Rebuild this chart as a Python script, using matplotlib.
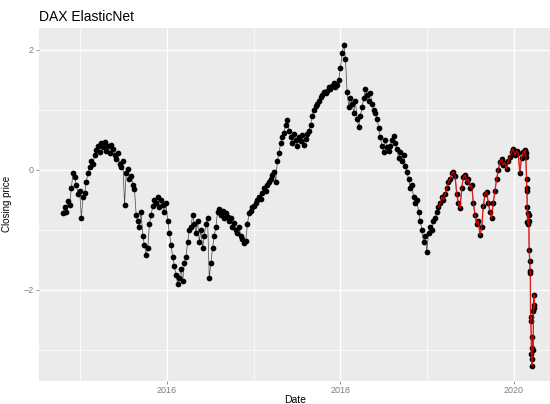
"""DAX ElasticNet closing price chart, ggplot look."""

import matplotlib

matplotlib.use("Agg")
import matplotlib.dates as mdates
import matplotlib.pyplot as plt
import pandas as pd

# weekly closing price (standardised), Oct 2014 - Feb 2020
weekly_start = "2014-10-20"
weekly_values = [
    -0.72, -0.62, -0.70, -0.52, -0.58, -0.30, -0.05, -0.12,
    -0.25, -0.40, -0.35, -0.80, -0.45,
    -0.38, -0.20, -0.05, 0.05, 0.15, 0.10, 0.25,
    0.33, 0.40, 0.30, 0.45, 0.38, 0.46, 0.32, 0.40, 0.28, 0.42, 0.35, 0.25,
    0.18, 0.28, 0.10, 0.05, 0.15, -0.58, -0.05, 0.02, -0.15, -0.10, -0.25, -0.32,
    -0.75, -0.85, -0.95, -0.70, -1.10, -1.25, -1.42, -1.30,
    -0.90, -0.75, -0.60, -0.50, -0.55, -0.45, -0.62, -0.50, -0.58, -0.70,
    -0.55, -0.85, -1.05, -1.25, -1.45, -1.60, -1.75, -1.90,
    -1.80, -1.65, -1.85, -1.55,
    -1.45, -1.20, -1.00, -0.95, -0.75, -0.90,
    -1.05, -0.85, -1.20, -1.00, -1.30, -1.10, -0.90, -0.80,
    -1.80, -1.55, -1.30, -1.10, -0.95,
    -0.70, -0.65, -0.75, -0.68, -0.80, -0.72,
    -0.78, -0.85, -0.80, -0.95, -0.88, -1.00, -1.05, -0.95, -1.10, -1.15, -1.22, -1.18,
    -0.90, -0.72, -0.68, -0.62,
    -0.60, -0.55, -0.50, -0.45, -0.48, -0.38, -0.30, -0.35, -0.25, -0.20, -0.15, -0.08, -0.03, -0.20,
    0.15, 0.28, 0.45, 0.55, 0.62, 0.75, 0.84, 0.65,
    0.55, 0.45, 0.60, 0.50, 0.40, 0.55, 0.48, 0.58, 0.42, 0.52, 0.60, 0.65,
    0.75, 0.90, 1.00, 1.06, 1.10, 1.15, 1.22, 1.25, 1.30, 1.28, 1.32, 1.38, 1.35, 1.40, 1.45, 1.38, 1.42, 1.50,
    1.70, 1.95, 2.08, 1.85, 1.30, 1.05,
    1.20, 1.10, 0.95, 1.15, 0.85, 0.72, 0.90,
    1.05, 1.20, 1.34, 1.25, 1.15, 1.28, 1.10, 1.00, 0.95,
    0.85, 0.70, 0.55, 0.40, 0.30, 0.50, 0.38, 0.32,
    0.40, 0.50, 0.56, 0.45, 0.35, 0.20, 0.30, 0.15, 0.25, 0.07,
    -0.03, -0.15, -0.30, -0.25, -0.45, -0.55, -0.50, -0.70,
    -0.85, -1.00, -1.20, -1.10, -1.36,
    -1.05, -0.95, -1.00, -0.85, -0.80, -0.70, -0.62,
    -0.55, -0.45, -0.50, -0.40, -0.30, -0.20, -0.15, -0.05, -0.03, -0.10,
    -0.40, -0.55, -0.64,
    -0.30, -0.12, -0.08, -0.20, -0.15, -0.30, -0.25,
    -0.55, -0.75, -0.90, -0.85, -1.09, -0.95,
    -0.60, -0.40, -0.36,
    -0.55, -0.70, -0.80,
    -0.55, -0.35, -0.15, 0.00, 0.13,
    0.18, 0.08, 0.12, 0.02, 0.15, 0.22,
    0.30, 0.35, 0.25, 0.32, 0.28, -0.05, 0.20,
    0.30, 0.32,
]

# daily values through the March 2020 crash
daily_start = "2020-02-18"
daily_values = [
    0.25, 0.33, 0.28, 0.22, -0.15, -0.30, -0.35, -0.62, -0.86, -0.90,
    -0.72, -0.75, -0.85, -1.34, -1.52, -1.69, -1.72, -2.51, -2.45, -3.07,
    -2.96, -3.26, -3.15, -2.79, -3.00, -2.35, -2.25, -2.08, -2.30,
]

test_start = "2019-02-18"
title = "DAX ElasticNet"
x_label = "Date"
y_label = "Closing price"
y_ticks = [-2, 0, 2]
y_minor = [-3, -1, 1]
x_major = ["2016-01-01", "2018-01-01", "2020-01-01"]
x_minor = ["2015-01-01", "2017-01-01", "2019-01-01"]


def main() -> None:
    dates = pd.date_range(weekly_start, periods=len(weekly_values), freq="7D").append(
        pd.bdate_range(daily_start, periods=len(daily_values))
    )
    series = pd.Series(weekly_values + daily_values, index=dates)
    test = series[series.index >= pd.Timestamp(test_start)]

    plt.rcParams["font.family"] = ["Liberation Sans", "DejaVu Sans"]
    fig = plt.figure(figsize=(5.5, 4.04), dpi=100)
    ax = fig.add_axes([0.0715, 0.058, 0.9285, 0.872])
    ax.set_facecolor("#EBEBEB")

    ax.plot(series.index, series.values, color="#444444", linewidth=0.5, zorder=2)
    ax.scatter(series.index, series.values, s=17, color="black", linewidths=0, zorder=3)
    ax.plot(test.index, test.values, color="red", linewidth=1.0, alpha=0.75, zorder=4)

    ax.set_xlim(pd.Timestamp("2014-07-12"), pd.Timestamp("2020-06-02"))
    ax.set_ylim(-3.51, 2.36)
    ax.set_yticks(y_ticks)
    ax.set_yticks(y_minor, minor=True)
    ax.set_xticks([pd.Timestamp(d) for d in x_major])
    ax.set_xticks([pd.Timestamp(d) for d in x_minor], minor=True)
    ax.xaxis.set_major_formatter(mdates.DateFormatter("%Y"))

    ax.grid(which="major", color="white", linewidth=1.0)
    ax.grid(which="minor", color="white", linewidth=0.5)
    ax.set_axisbelow(True)
    for spine in ax.spines.values():
        spine.set_visible(False)
    ax.tick_params(which="major", length=2.5, width=0.6, color="#7F7F7F", labelsize=6.5,
                   labelcolor="#7F7F7F", pad=1.5)
    ax.tick_params(which="minor", length=0)

    ax.set_title(title, loc="left", fontsize=10, pad=5)
    ax.set_ylabel(y_label, fontsize=7, labelpad=8)
    ax.set_xlabel(x_label, fontsize=7.5, labelpad=0)

    fig.savefig("out.png", dpi=100)
    plt.close(fig)


if __name__ == "__main__":
    main()
